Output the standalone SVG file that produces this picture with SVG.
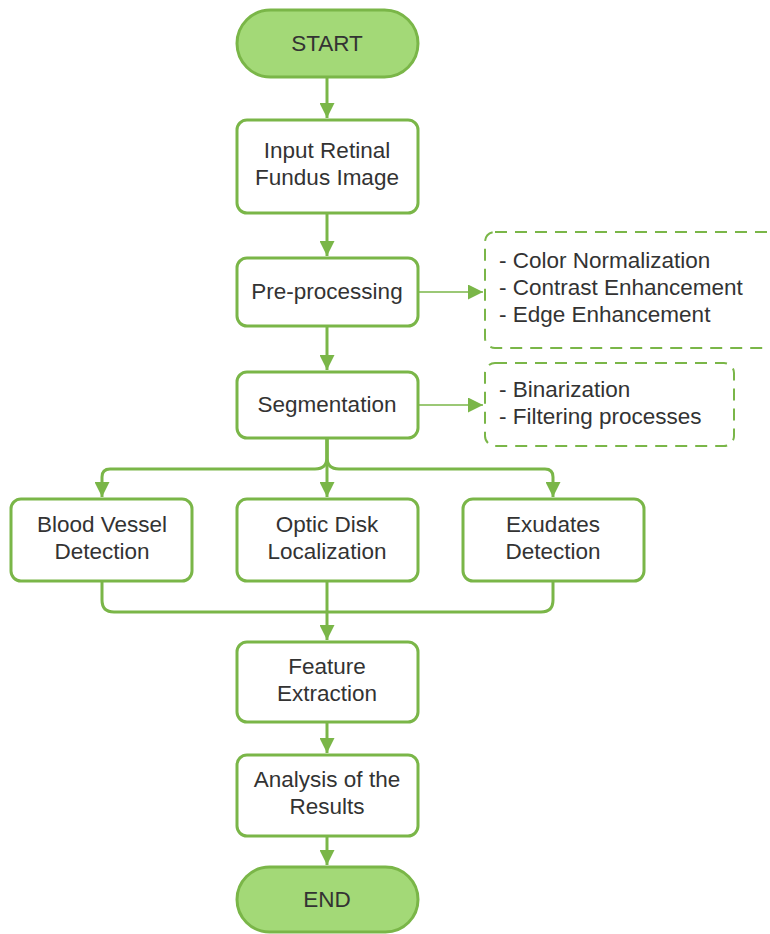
<svg xmlns="http://www.w3.org/2000/svg" width="770" height="934" viewBox="0 0 770 934">
  <style>
    .box { fill: #ffffff; stroke: #7ab648; stroke-width: 3; }
    .term { fill: #a3d977; stroke: #7ab648; stroke-width: 3; }
    .note { fill: #ffffff; stroke: #7ab648; stroke-width: 2; stroke-dasharray: 12 8; }
    .wire { fill: none; stroke: #7ab648; stroke-width: 3; }
    .thin { fill: none; stroke: #7ab648; stroke-width: 1.5; }
    text { font-family: "Liberation Sans", Arial, sans-serif; font-size: 22.5px; fill: #333333; }
    .c { text-anchor: middle; }
  </style>
  <defs>
    <marker id="ah" viewBox="0 0 10 10" refX="10" refY="5" markerWidth="5" markerHeight="5" markerUnits="strokeWidth" orient="auto">
      <path d="M0,0 L10,5 L0,10 z" fill="#7ab648"/>
    </marker>
    <marker id="ahs" viewBox="0 0 10 10" refX="10" refY="5" markerWidth="10" markerHeight="10" markerUnits="strokeWidth" orient="auto">
      <path d="M0,0 L10,5 L0,10 z" fill="#7ab648"/>
    </marker>
  </defs>

  <g id="connectors">
    <path class="wire" d="M327,78 V118" marker-end="url(#ah)"/>
    <path class="wire" d="M327,214 V256" marker-end="url(#ah)"/>
    <path class="wire" d="M327,327 V370" marker-end="url(#ah)"/>
    <path class="thin" d="M419,292 H483" marker-end="url(#ahs)"/>
    <path class="thin" d="M419,405 H483" marker-end="url(#ahs)"/>
    <!-- split into three branches -->
    <path class="wire" d="M327,439 V457 Q327,469 315,469 H110 Q102,469 102,477 V497" marker-end="url(#ah)"/>
    <path class="wire" d="M327,439 V457 Q327,469 339,469 H545 Q553,469 553,477 V497" marker-end="url(#ah)"/>
    <path class="wire" d="M327,439 V497" marker-end="url(#ah)"/>
    <!-- merge back -->
    <path class="wire" d="M102,582 V600 Q102,612 114,612 H327"/>
    <path class="wire" d="M553,582 V600 Q553,612 541,612 H327"/>
    <path class="wire" d="M327,582 V640" marker-end="url(#ah)"/>
    <path class="wire" d="M327,723 V753" marker-end="url(#ah)"/>
    <path class="wire" d="M327,837 V865" marker-end="url(#ah)"/>
  </g>

  <g id="start">
    <rect class="term" x="237" y="10" width="181" height="67" rx="33.5"/>
    <text class="c" x="327" y="51">START</text>
  </g>
  <g id="input">
    <rect class="box" x="237" y="120" width="181" height="93" rx="10"/>
    <text class="c" x="327" y="158">Input Retinal</text>
    <text class="c" x="327" y="185">Fundus Image</text>
  </g>
  <g id="preprocessing">
    <rect class="box" x="237" y="258" width="181" height="68" rx="10"/>
    <text class="c" x="327" y="299">Pre-processing</text>
  </g>
  <g id="preprocessing-note">
    <rect class="note" x="485" y="232" width="300" height="116" rx="10"/>
    <text x="499" y="268">- Color Normalization</text>
    <text x="499" y="295">- Contrast Enhancement</text>
    <text x="499" y="322">- Edge Enhancement</text>
  </g>
  <g id="segmentation">
    <rect class="box" x="237" y="372" width="181" height="66" rx="10"/>
    <text class="c" x="327" y="412">Segmentation</text>
  </g>
  <g id="segmentation-note">
    <rect class="note" x="485" y="363" width="249" height="83" rx="10"/>
    <text x="499" y="397">- Binarization</text>
    <text x="499" y="424">- Filtering processes</text>
  </g>
  <g id="blood-vessel">
    <rect class="box" x="11" y="499" width="181" height="82" rx="10"/>
    <text class="c" x="102" y="532">Blood Vessel</text>
    <text class="c" x="102" y="559">Detection</text>
  </g>
  <g id="optic-disk">
    <rect class="box" x="237" y="499" width="181" height="82" rx="10"/>
    <text class="c" x="327" y="532">Optic Disk</text>
    <text class="c" x="327" y="559">Localization</text>
  </g>
  <g id="exudates">
    <rect class="box" x="463" y="499" width="181" height="82" rx="10"/>
    <text class="c" x="553" y="532">Exudates</text>
    <text class="c" x="553" y="559">Detection</text>
  </g>
  <g id="feature-extraction">
    <rect class="box" x="237" y="642" width="181" height="80" rx="10"/>
    <text class="c" x="327" y="674">Feature</text>
    <text class="c" x="327" y="701">Extraction</text>
  </g>
  <g id="analysis">
    <rect class="box" x="237" y="755" width="181" height="81" rx="10"/>
    <text class="c" x="327" y="787">Analysis of the</text>
    <text class="c" x="327" y="814">Results</text>
  </g>
  <g id="end">
    <rect class="term" x="237" y="867" width="181" height="65" rx="32.5"/>
    <text class="c" x="327" y="907">END</text>
  </g>
</svg>
